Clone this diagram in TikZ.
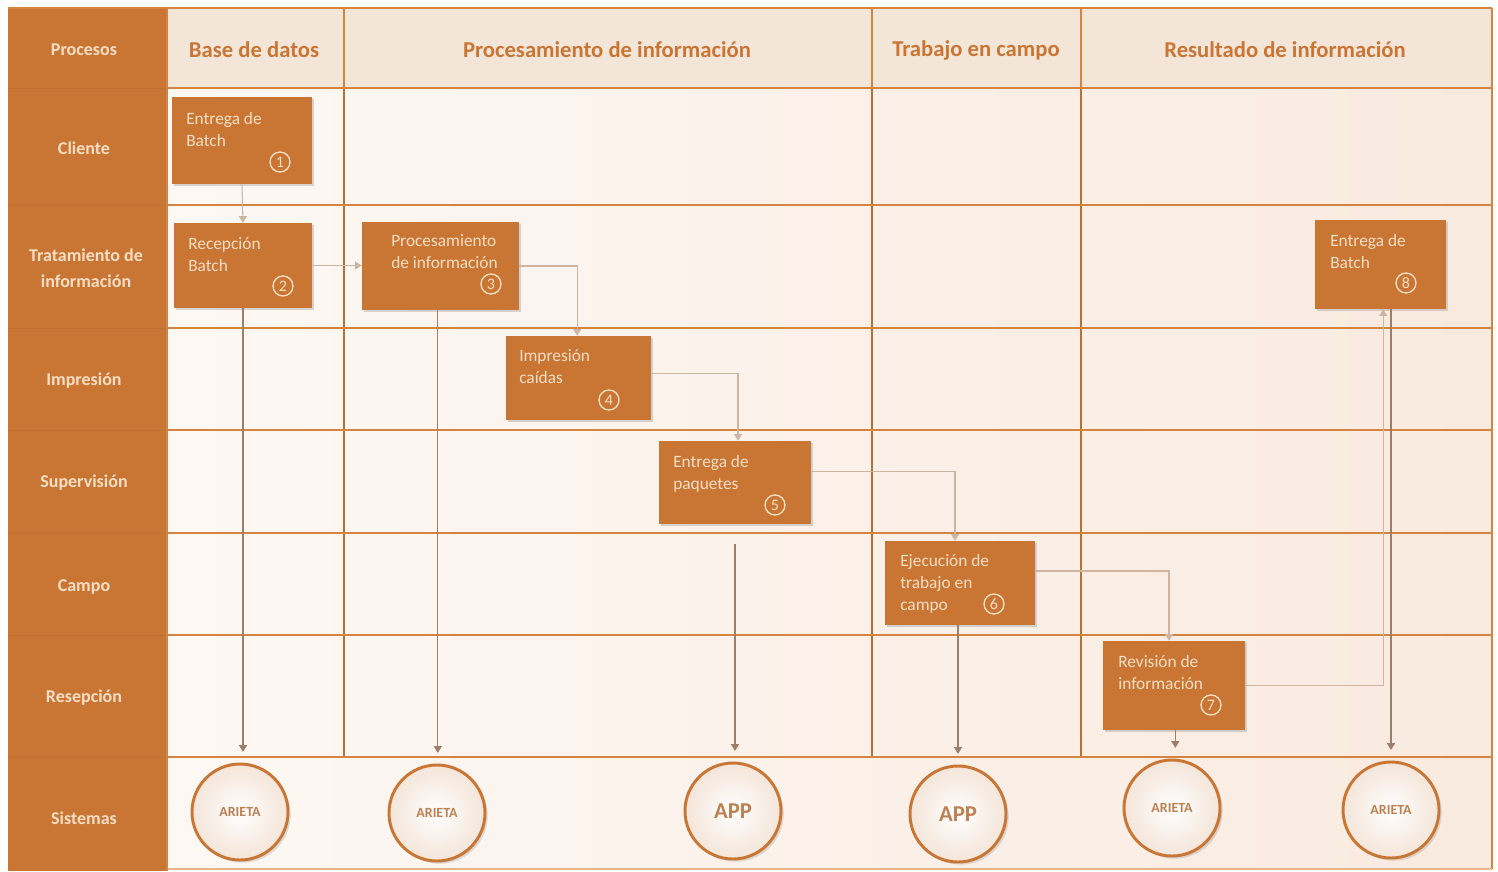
\documentclass[tikz,border=0pt]{standalone}
\usepackage{fontspec}
\setmainfont{Carlito}
\usetikzlibrary{arrows.meta,shadows}
\definecolor{orng}{HTML}{C97634}
\definecolor{cream}{HTML}{F7DEC4}
\definecolor{lineor}{HTML}{D4843F}
\definecolor{conlight}{HTML}{CDB5A1}
\definecolor{condark}{HTML}{9E7E66}
\definecolor{hdrfill}{HTML}{F4E5D9}
\definecolor{bodyL}{HTML}{FDF8F4}
\definecolor{bodyR}{HTML}{F9EADF}
\definecolor{arietatxt}{HTML}{BE8050}
\begin{document}
\begin{tikzpicture}[x=0.75pt,y=-0.75pt,
  box/.style={rectangle, fill=orng, draw=none, inner sep=0,
    drop shadow={opacity=0.3, shadow xshift=1.5pt, shadow yshift=-1.5pt}},
  boxtext/.style={anchor=north west, inner sep=0, align=left, text=cream,
    font=\fontsize{13}{16.5}\selectfont},
  num/.style={circle, draw=cream, line width=1pt, text=cream, inner sep=0,
    minimum size=15pt, font=\fontsize{12}{12}\selectfont},
  rowlab/.style={text=cream, align=center, font=\bfseries\fontsize{13.5}{19.5}\selectfont},
  hdr/.style={text=orng, font=\bfseries\fontsize{17}{20}\selectfont},
  sys/.style={circle, minimum size=72pt, inner sep=0, draw=orng, line width=2.2pt,
    inner color=white, outer color=hdrfill,
    drop shadow={opacity=0.25, shadow xshift=2pt, shadow yshift=-2pt}},
  sysA/.style={sys, text=arietatxt, font=\bfseries\fontsize{10.5}{10.5}\selectfont},
  sysB/.style={sys, text=arietatxt, font=\bfseries\fontsize{17}{17}\selectfont},
  flow/.style={draw=conlight, line width=0.8pt, -{Triangle[width=6pt,length=5pt]}},
  down/.style={draw=condark, line width=0.8pt, -{Triangle[width=6pt,length=5pt]}},
  hline/.style={draw=lineor, line width=2.2pt},
  vline/.style={draw=lineor!85!black, line width=1.1pt},
]
\useasboundingbox (0,0) rectangle (1498,871);
% background
\fill[white] (0,0) rectangle (1498,871);
\fill[orng] (8,8) rectangle (167,871);
\shade[left color=bodyL, right color=bodyR] (167,88) rectangle (1492,869);
\fill[hdrfill] (167,8) rectangle (1492,88);
% left column faint dividers
\foreach \yy in {88,205,328,430,533,635,757}
  \draw[orng!88!black, opacity=0.35, line width=0.6pt] (8,\yy) -- (167,\yy);
% vertical separators
\foreach \xx in {344,872,1081}{
  \draw[hline] (\xx,8) -- (\xx,88);
  \draw[vline] (\xx,88) -- (\xx,757);
}
% horizontal lines
\foreach \yy in {88,205,328,430,533,635,757}
  \draw[hline] (167,\yy) -- (1492,\yy);
\draw[hline] (8,8) -- (1492,8);
\draw[hline] (1492,8) -- (1492,869);
\draw[draw=lineor!60, line width=1.2pt] (167,869) -- (1492,869);
\draw[hline] (167,8) -- (167,871);

% headers
\node[rowlab] (hProc) at (84,50) {Procesos};
\node[hdr] (hBase) at (254,50) {Base de datos};
\node[hdr] (hProcInf) at (607,50) {Procesamiento de información};
\node[hdr] (hTrab) at (976,50) {Trabajo en campo};
\node[hdr] (hRes) at (1285,50) {Resultado de información};

% row labels
\node[rowlab] (rCli) at (84,148) {Cliente};
\node[rowlab] (rTrat) at (86,268) {Tratamiento de\\información};
\node[rowlab] (rImp) at (84,381) {Impresión};
\node[rowlab] (rSup) at (84,483) {Supervisión};
\node[rowlab] (rCam) at (84,587) {Campo};
\node[rowlab] (rRes) at (84,698) {Resepción};
\node[rowlab] (rSis) at (84,818) {Sistemas};

% process boxes
\node[box, minimum width=105pt, minimum height=65.25pt] (b1) at (242,140.5) {};
\node[box, minimum width=103.5pt, minimum height=63.75pt] (b2) at (243,265.5) {};
\node[box, minimum width=117.75pt, minimum height=66pt] (b3) at (440.5,266) {};
\node[box, minimum width=108.75pt, minimum height=63pt] (b4) at (578.5,378) {};
\node[box, minimum width=114pt, minimum height=62.25pt] (b5) at (735,482.5) {};
\node[box, minimum width=112.5pt, minimum height=63pt] (b6) at (960,583) {};
\node[box, minimum width=106.5pt, minimum height=66.75pt] (b7) at (1174,685.5) {};
\node[box, minimum width=98.25pt, minimum height=66.75pt] (b8) at (1380.5,264.5) {};

\node[boxtext] (t1) at (186,112) {Entrega de\\Batch};
\node[boxtext] (t2) at (188,237) {Recepción\\Batch};
\node[boxtext] (t3) at (391,234) {Procesamiento\\de información};
\node[boxtext] (t4) at (519,349) {Impresión\\caídas};
\node[boxtext] (t5) at (673,455) {Entrega de\\paquetes};
\node[boxtext] (t6) at (900,554) {Ejecución de\\trabajo en\\campo};
\node[boxtext] (t7) at (1118,655) {Revisión de\\información};
\node[boxtext] (t8) at (1330,234) {Entrega de\\Batch};

\node[num] (n1) at (280,162) {1};
\node[num] (n2) at (283,286) {2};
\node[num] (n3) at (491,284) {3};
\node[num] (n4) at (609,400) {4};
\node[num] (n5) at (775,505) {5};
\node[num] (n6) at (994,604) {6};
\node[num] (n7) at (1211,705) {7};
\node[num] (n8) at (1406,283) {8};

% systems
\node[sysA] (s1) at (240,812) {ARIETA};
\node[sysA] (s2) at (437,813) {ARIETA};
\node[sysB] (s3) at (733,811) {APP};
\node[sysB] (s4) at (958,814) {APP};
\node[sysA] (s5) at (1172,808) {ARIETA};
\node[sysA] (s6) at (1391,810) {ARIETA};

% flow connectors
\draw[flow] (b1.south) -- (b2.north);
\draw[flow] (b2.east) -- (b3.west |- b2.east);
\draw[flow] (b3.east) -| ([xshift=-1pt]b4.north);
\draw[flow] ([yshift=3.5pt]b4.east) -| ([xshift=2.25pt]b5.north);
\draw[flow] ([yshift=8.5pt]b5.east) -| ([xshift=-3.75pt]b6.north);
\draw[flow] ([yshift=9pt]b6.east) -| ([xshift=-3.75pt]b7.north);
\draw[flow] (b7.east) -| ([xshift=2pt]b8.south);

% links to systems
\draw[down, shorten >=8pt] (b2.south) -- (b2.south |- s1.north);
\draw[down, shorten >=8pt] ([xshift=-2pt]b3.south) -- ([xshift=-2pt]b3.south |- s2.north);
\draw[down, shorten <=15pt, shorten >=8pt] (b5.south) -- (b5.south |- s3.north);
\draw[down, shorten >=8pt] ([xshift=-1.5pt]b6.south) -- ([xshift=-1.5pt]b6.south |- s4.north);
\draw[down, shorten >=8pt] ([xshift=1pt]b7.south) -- ([xshift=1pt]b7.south |- s5.north);
\draw[down, shorten >=8pt] (s6.north |- b8.south) -- (s6.north);
\end{tikzpicture}
\end{document}
